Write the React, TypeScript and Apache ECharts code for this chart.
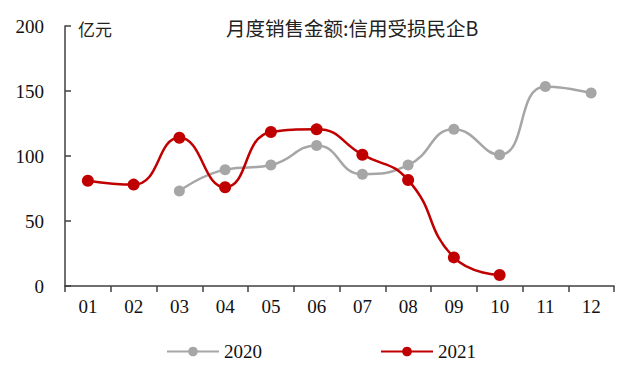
import React, { useEffect, useRef } from "react";
import * as echarts from "echarts";

const months = ["01", "02", "03", "04", "05", "06", "07", "08", "09", "10", "11", "12"];
const s2020: (number | null)[] = [null, null, 73, 89.5, 93, 108, 86, 93, 120.5, 101, 153.5, 148.5];
const s2021: (number | null)[] = [81, 78, 114, 76, 118.5, 120.5, 101, 81.5, 22, 8.5, null, null];
const yTicks = { min: 0, max: 200, interval: 50 };
const titleText = "月度销售金额:信用受损民企B";
const unitText = "亿元";

export default function App() {
  const ref = useRef<HTMLDivElement>(null);
  useEffect(() => {
    if (!ref.current) return;
    const chart = echarts.init(ref.current, undefined, { renderer: "svg" });
    const serif = "Liberation Serif";
    const cjk = "Noto Sans CJK SC";
    chart.setOption({
      animation: false,
      backgroundColor: "#fff",
      grid: { left: 65, right: 16, top: 26, bottom: 81 },
      graphic: [
        {
          type: "text",
          left: 78,
          top: 20,
          style: { text: unitText, fontFamily: cjk, fontSize: 17, fill: "#222" },
        },
        {
          type: "text",
          left: 226,
          top: 18,
          style: { text: titleText, fontFamily: cjk, fontSize: 19.5, fill: "#222" },
        },
      ],
      legend: {
        left: 161,
        top: 337,
        itemWidth: 52,
        itemHeight: 12,
        itemGap: 118,
        textStyle: { fontFamily: serif, fontSize: 19, color: "#111" },
        data: ["2020", "2021"],
      },
      xAxis: {
        type: "category",
        data: months,
        boundaryGap: true,
        axisLine: { lineStyle: { color: "#404040", width: 1.5 } },
        axisTick: { show: true, inside: false, length: 6, lineStyle: { color: "#404040", width: 1.5 } },
        axisLabel: { fontFamily: serif, fontSize: 19, color: "#111", margin: 11 },
      },
      yAxis: {
        type: "value",
        min: yTicks.min,
        max: yTicks.max,
        interval: yTicks.interval,
        splitLine: { show: false },
        axisLine: { show: true, lineStyle: { color: "#404040", width: 1.5 } },
        axisTick: { show: true, inside: true, length: 6, lineStyle: { color: "#404040", width: 1.5 } },
        axisLabel: { fontFamily: serif, fontSize: 19, color: "#111", margin: 21 },
      },
      series: [
        {
          name: "2020",
          type: "line",
          data: s2020,
          smooth: 0.5,
          symbol: "circle",
          symbolSize: 11,
          connectNulls: false,
          itemStyle: { color: "#A6A6A6" },
          lineStyle: { color: "#A6A6A6", width: 2.5 },
        },
        {
          name: "2021",
          type: "line",
          data: s2021,
          smooth: 0.5,
          symbol: "circle",
          symbolSize: 12,
          itemStyle: { color: "#C00000" },
          lineStyle: { color: "#C00000", width: 2.5 },
        },
      ],
    });
    return () => chart.dispose();
  }, []);
  return <div ref={ref} style={{ width: 630, height: 367, position: "absolute", left: 0, top: 0 }} />;
}
